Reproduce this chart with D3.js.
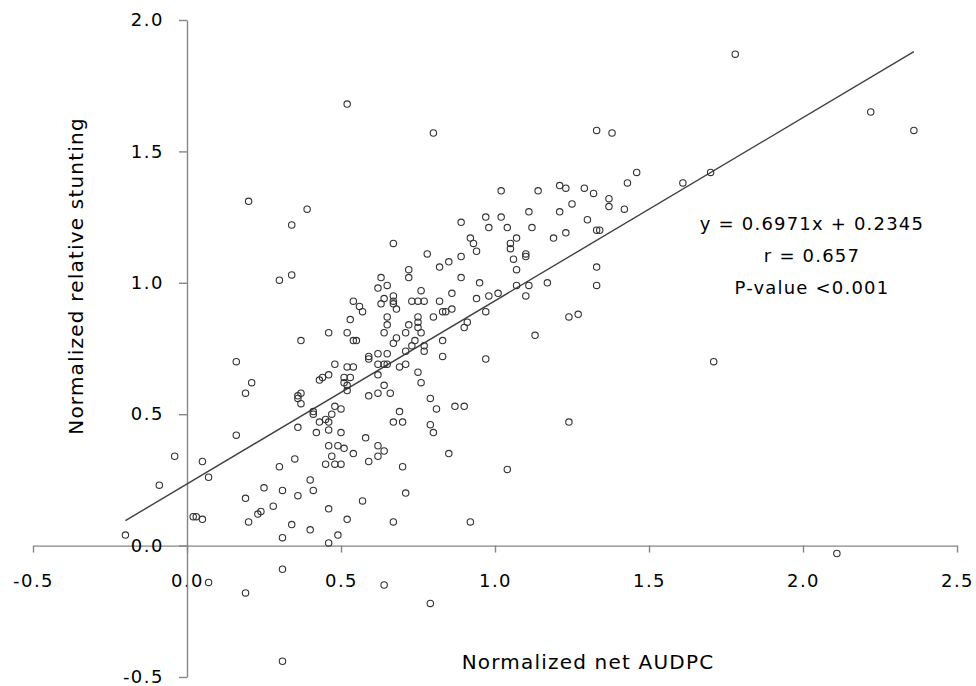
<!DOCTYPE html>
<html>
<head>
<meta charset="utf-8">
<script src="https://cdn.jsdelivr.net/npm/d3@7"></script>
<style>
  body { margin: 0; background: #fff; }
  svg { display: block; }
</style>
</head>
<body>
<script>
// normalized net AUDPC (x) and normalized relative stunting (y)
const netAudpc = [
  1.78, 2.22, 2.36, 1.70, 1.61, 1.71, 2.11, 1.46, 1.43, 1.33,
  1.38, 1.02, 1.14, 1.21, 1.23, 1.29, 1.32, 1.37, 1.37, 1.42,
  1.25, 1.21, 1.11, 1.02, 0.97, 0.98, 1.04, 1.12, 1.23, 1.19,
  1.30, 1.33, 1.34, 0.92, 0.93, 0.94, 1.07, 1.05, 1.05, 1.06,
  1.10, 1.10, 1.07, 1.33, 0.95, 1.07, 1.11, 1.17, 1.33, 0.98,
  1.01, 1.10, 0.94, 0.97, 1.24, 1.27, 1.13, 0.97, 1.24, 1.04,
  0.92, 0.67, 0.59, 0.62, 0.64, 0.65, 0.69, 0.71, 0.75, 0.62,
  0.76, 0.64, 0.62, 0.66, 0.59, 0.79, 0.81, 0.87, 0.90, 0.69,
  0.67, 0.70, 0.79, 0.80, 0.58, 0.62, 0.64, 0.62, 0.59, 0.85,
  0.70, 0.71, 0.57, 0.16, 0.48, 0.52, 0.54, 0.21, 0.43, 0.44,
  0.46, 0.51, 0.53, 0.51, 0.52, 0.52, 0.19, 0.37, 0.36, 0.36,
  0.37, 0.41, 0.41, 0.48, 0.50, 0.43, 0.45, 0.47, 0.46, 0.36,
  0.42, 0.46, 0.50, 0.16, 0.46, 0.49, 0.51, 0.54, 0.47, 0.48,
  0.50, 0.45, 0.35, 0.30, 0.05, 0.07, 0.40, 0.25, 0.31, 0.36,
  0.41, 0.19, 0.28, 0.24, 0.23, 0.46, 0.52, 0.03, 0.02, 0.05,
  0.20, 0.34, 0.40, 0.49, 0.31, 0.46, 0.39, 0.89, 0.67, 0.78,
  0.89, 0.85, 0.82, 0.72, 0.72, 0.63, 0.62, 0.65, 0.89, 0.76,
  0.86, 0.67, 0.67, 0.64, 0.63, 0.67, 0.68, 0.54, 0.56, 0.57,
  0.73, 0.75, 0.77, 0.82, 0.86, 0.83, 0.84, 0.65, 0.53, 0.75,
  0.80, 0.72, 0.75, 0.75, 0.65, 0.46, 0.52, 0.54, 0.55, 0.64,
  0.71, 0.68, 0.67, 0.74, 0.76, 0.73, 0.77, 0.71, 0.83, 0.90,
  0.91, 0.83, 0.77, 0.37, 0.59, 0.62, 0.65, 0.20, 0.34, 0.30,
  0.34, -0.04, -0.09, -0.20, 0.31, 0.07, 0.19, 0.31, 0.64, 0.79,
  0.52, 0.80
];

const relStunting = [
  1.87, 1.65, 1.58, 1.42, 1.38, 0.70, -0.03, 1.42, 1.38, 1.58,
  1.57, 1.35, 1.35, 1.37, 1.36, 1.36, 1.34, 1.32, 1.29, 1.28,
  1.30, 1.27, 1.27, 1.25, 1.25, 1.21, 1.21, 1.21, 1.19, 1.17,
  1.24, 1.20, 1.20, 1.17, 1.15, 1.12, 1.17, 1.15, 1.13, 1.09,
  1.10, 1.11, 1.05, 1.06, 1.00, 0.99, 0.99, 1.00, 0.99, 0.95,
  0.96, 0.95, 0.94, 0.89, 0.87, 0.88, 0.80, 0.71, 0.47, 0.29,
  0.09, 0.09, 0.71, 0.69, 0.69, 0.69, 0.68, 0.69, 0.66, 0.65,
  0.62, 0.61, 0.58, 0.58, 0.57, 0.56, 0.52, 0.53, 0.53, 0.51,
  0.47, 0.47, 0.46, 0.43, 0.41, 0.38, 0.36, 0.34, 0.32, 0.35,
  0.30, 0.20, 0.17, 0.70, 0.69, 0.68, 0.68, 0.62, 0.63, 0.64,
  0.65, 0.64, 0.64, 0.62, 0.61, 0.59, 0.58, 0.58, 0.57, 0.56,
  0.54, 0.51, 0.50, 0.53, 0.52, 0.47, 0.48, 0.50, 0.47, 0.45,
  0.43, 0.44, 0.43, 0.42, 0.38, 0.38, 0.37, 0.35, 0.34, 0.31,
  0.31, 0.31, 0.33, 0.30, 0.32, 0.26, 0.25, 0.22, 0.21, 0.19,
  0.21, 0.18, 0.15, 0.13, 0.12, 0.14, 0.10, 0.11, 0.11, 0.10,
  0.09, 0.08, 0.06, 0.04, 0.03, 0.01, 1.28, 1.23, 1.15, 1.11,
  1.10, 1.08, 1.06, 1.05, 1.02, 1.02, 0.98, 0.99, 1.02, 0.97,
  0.96, 0.95, 0.93, 0.94, 0.92, 0.92, 0.90, 0.93, 0.91, 0.89,
  0.93, 0.93, 0.93, 0.93, 0.90, 0.89, 0.89, 0.87, 0.86, 0.87,
  0.87, 0.84, 0.85, 0.83, 0.84, 0.81, 0.81, 0.78, 0.78, 0.81,
  0.81, 0.79, 0.77, 0.78, 0.81, 0.76, 0.76, 0.74, 0.78, 0.83,
  0.85, 0.72, 0.74, 0.78, 0.72, 0.73, 0.73, 1.31, 1.22, 1.01,
  1.03, 0.34, 0.23, 0.04, -0.09, -0.14, -0.18, -0.44, -0.15, -0.22,
  1.68, 1.57
];

const xTicks = [-0.5, 0.0, 0.5, 1.0, 1.5, 2.0, 2.5];
const yTicks = [-0.5, 0.0, 0.5, 1.0, 1.5, 2.0];

// trendline from the chart annotation
const slope = 0.6971;
const intercept = 0.2345;
const statLines = ["y = 0.6971x + 0.2345", "r = 0.657", "P-value <0.001"];

const width = 976;
const height = 686;
const axisColor = "#868686";
const font = "'DejaVu Sans', sans-serif";

const points = netAudpc.map((x, i) => ({x: x, y: relStunting[i]}));

const xScale = d3.scaleLinear()
  .domain([-0.5, 2.5])
  .range([33, 957]);
const yScale = d3.scaleLinear()
  .domain([-0.5, 2.0])
  .range([677, 20]);

const svg = d3.select("body").append("svg")
  .attr("width", width)
  .attr("height", height)
  .attr("viewBox", [0, 0, width, height]);

svg.append("rect")
  .attr("width", width)
  .attr("height", height)
  .attr("fill", "#fff");

const fmt = d => d.toFixed(1);

const xAxis = g => g
  .attr("transform", `translate(0,${yScale(0)})`)
  .call(d3.axisBottom(xScale).tickValues(xTicks).tickFormat(fmt)
    .tickSize(7).tickSizeOuter(0).tickPadding(22))
  .call(g => g.selectAll(".domain, .tick line")
    .attr("stroke", axisColor).attr("stroke-width", 1.4));

const yAxis = g => g
  .attr("transform", `translate(${xScale(0)},0)`)
  .call(d3.axisLeft(yScale).tickValues(yTicks).tickFormat(fmt)
    .tickSize(8).tickSizeOuter(0).tickPadding(15))
  .call(g => g.selectAll(".domain, .tick line")
    .attr("stroke", axisColor).attr("stroke-width", 1.4));

svg.append("g").call(xAxis);
svg.append("g").call(yAxis);

svg.selectAll(".tick text")
  .attr("fill", "#000")
  .attr("font-family", font)
  .attr("font-size", 18)
  .attr("letter-spacing", "1.5px");

// trendline across the range of the data
const [xMin, xMax] = d3.extent(netAudpc);
svg.append("line")
  .attr("x1", xScale(xMin))
  .attr("y1", yScale(slope * xMin + intercept))
  .attr("x2", xScale(xMax))
  .attr("y2", yScale(slope * xMax + intercept))
  .attr("stroke", "#404040")
  .attr("stroke-width", 1.4);

svg.append("g")
    .attr("fill", "none")
    .attr("stroke", "#333")
    .attr("stroke-width", 1.1)
  .selectAll("circle")
  .data(points)
  .join("circle")
    .attr("cx", d => xScale(d.x))
    .attr("cy", d => yScale(d.y))
    .attr("r", 3.2);

svg.append("g")
    .attr("font-family", font)
    .attr("font-size", 18)
    .attr("letter-spacing", "1.2px")
    .attr("text-anchor", "middle")
  .selectAll("text")
  .data(statLines)
  .join("text")
    .attr("x", 812)
    .attr("y", (d, i) => 230 + i * 32)
    .text(d => d);

svg.append("text")
  .attr("x", 588)
  .attr("y", 669)
  .attr("text-anchor", "middle")
  .attr("font-family", font)
  .attr("font-size", 20)
  .attr("letter-spacing", "1.2px")
  .text("Normalized net AUDPC");

svg.append("text")
  .attr("transform", "translate(83,276) rotate(-90)")
  .attr("text-anchor", "middle")
  .attr("font-family", font)
  .attr("font-size", 20)
  .attr("letter-spacing", "1.2px")
  .text("Normalized relative stunting");
</script>
</body>
</html>
